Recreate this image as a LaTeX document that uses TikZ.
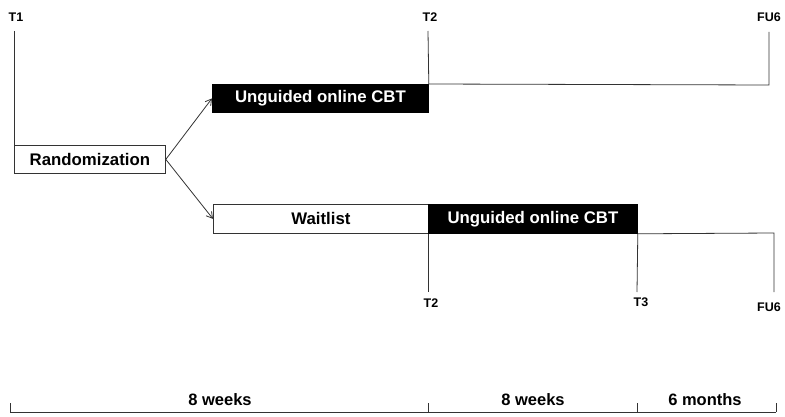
\documentclass[tikz,border=0pt]{standalone}
\usepackage{fontspec}
\setmainfont{Liberation Sans}
\usetikzlibrary{arrows.meta}
\begin{document}
\begin{tikzpicture}[x=1pt,y=-1pt,
  ln/.style={draw=black!80, line width=0.8pt},
  wbox/.style={ln, fill=white, inner sep=0pt, anchor=north west, font=\bfseries\fontsize{16.8}{19}\selectfont},
  bbox/.style={ln, draw=black, fill=black, text=white, inner sep=0pt, anchor=north west, font=\bfseries\fontsize{16.8}{19}\selectfont},
  tlbl/.style={inner sep=0pt, font=\bfseries\fontsize{12.5}{15}\selectfont},
  slbl/.style={inner sep=0pt, font=\bfseries\fontsize{16.5}{19}\selectfont},
  arr/.style={ln, -{Straight Barb[length=6pt,width=7pt]}}]
\useasboundingbox (0,0) rectangle (785,417);
% boxes
\node[wbox, minimum width=151pt, minimum height=28pt] (rand) at (14,145) {Randomization};
\node[bbox, minimum width=216pt, minimum height=28pt] (cbt1) at (212,84) {Unguided online CBT};
\node[wbox, minimum width=215pt, minimum height=29pt] (wait) at (213,204) {Waitlist};
\node[bbox, minimum width=209pt, minimum height=29pt] (cbt2) at (428,204) {Unguided online CBT};
% time labels
\node[tlbl] (t1) at (16,17) {T1};
\node[tlbl] (t2a) at (430,17) {T2};
\node[tlbl] (fu6a) at (769,17) {FU6};
\node[tlbl] (t2b) at (431,303) {T2};
\node[tlbl] (t3) at (641,302) {T3};
\node[tlbl] (fu6b) at (769,307) {FU6};
% coordinates
\coordinate (t1top) at (14,31);
\coordinate (t2atop) at (428,31);
\coordinate (fu6atop) at (769,32);
\coordinate (fu6acorner) at (769,85);
\coordinate (t2bbot) at (428,292);
\coordinate (t3bot) at (637,292);
\coordinate (fu6bcorner) at (774,233);
\coordinate (fu6bbot) at (774,292);
% connectors
\draw[ln] (t1top) -- (rand.north west);
\draw[ln] (t2atop) -- (cbt1.north east) -- (fu6acorner) -- (fu6atop);
\draw[arr] (rand.east) -- (cbt1.west);
\draw[arr] (rand.east) -- (wait.west);
\draw[ln] (cbt2.south west) -- (t2bbot);
\draw[ln] (cbt2.south east) -- (t3bot);
\draw[ln] (cbt2.south east) -- (fu6bcorner) -- (fu6bbot);
% scale
\coordinate (s0) at (10,412);
\coordinate (s1) at (428,412);
\coordinate (s2) at (637,412);
\coordinate (s3) at (776,412);
\draw[ln] (s0) -- (s3);
\foreach \c in {s0,s1,s2,s3} \draw[ln] (\c) -- ++(0,-9);
\node[slbl] (w1) at (220,400) {8 weeks};
\node[slbl] (w2) at (533,400) {8 weeks};
\node[slbl] (m6) at (705,400) {6 months};
\end{tikzpicture}
\end{document}
